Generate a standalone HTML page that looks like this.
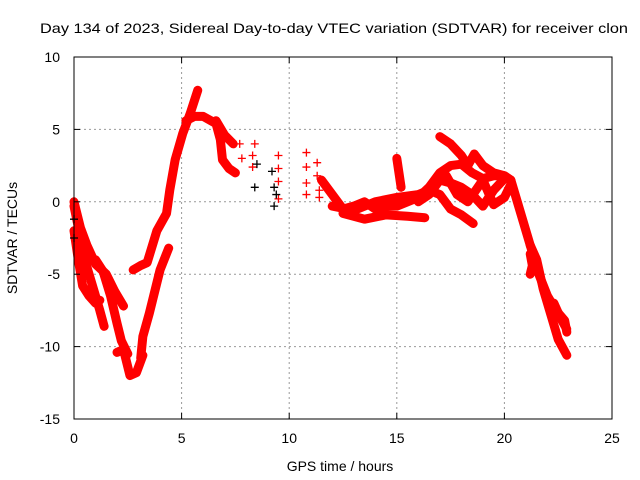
<!DOCTYPE html>
<html><head><meta charset="utf-8"><style>
body{margin:0;background:#fff}
svg{display:block;font-family:"Liberation Sans",sans-serif}
</style></head><body>
<svg id="chart" width="640" height="480" viewBox="0 0 640 480">
<text x="40" y="33" font-size="14" textLength="588" lengthAdjust="spacingAndGlyphs">Day 134 of 2023, Sidereal Day-to-day VTEC variation (SDTVAR) for receiver clon</text>
<g id="grid"></g>
<g id="marks"></g>
<rect x="74" y="57" width="538" height="362" fill="none" stroke="#000" stroke-width="1"/>
<g id="axes"></g>
<text x="340" y="471" font-size="14" text-anchor="middle">GPS time / hours</text>
<text transform="translate(17,238) rotate(-90)" font-size="14" text-anchor="middle">SDTVAR / TECUs</text>
</svg>
<script>
const xTicks=[0,5,10,15,20,25];
const yTicks=[10,5,0,-5,-10,-15];
const trackA=[[0,0],[0.3,-1.8],[0.6,-3],[1,-4.3],[1.5,-5],[1.9,-6.2],[2.3,-7.2]];
const trackB=[[0,-0.3],[0.3,-2.5],[0.6,-4.5],[0.9,-6],[1.2,-7.5],[1.4,-8.6]];
const trackC=[[0,-2],[0.2,-4],[0.4,-5.8],[0.7,-6.5],[1,-7],[1.2,-6.8]];
const trackD=[[1,-4],[1.35,-4.8],[1.7,-6.5],[2,-8.4],[2.2,-9.6],[2.5,-10.5]];
const trackE=[[2,-10.4],[2.3,-10.2],[2.6,-12],[2.9,-11.8],[3.2,-10.6]];
const trackF=[[3.1,-10.8],[3.2,-9.3],[3.5,-7.7],[3.7,-6.5],[4,-4.7],[4.4,-3.2]];
const trackG=[[2.75,-4.7],[3.1,-4.4],[3.4,-4.2],[3.85,-2],[4.3,-0.8],[4.45,0.8],[4.7,2.9],[5.05,4.7],[5.4,6.1],[5.75,7.7]];
const trackH=[[5.2,5.6],[5.6,5.9],[6,5.9],[6.6,5.4],[6.8,4.3],[6.9,2.9],[7.2,2.3],[7.5,2.0]];
const trackH2=[[6.6,5.6],[7,4.6],[7.4,4]];
const trackM1=[[11.5,1.5],[12,0.5],[12.5,-0.5],[13,-0.3],[13.5,0],[14,-0.5],[14.5,-0.3],[15,-0.3],[15.5,0],[16,0.3],[16.5,1],[17,2],[17.5,2.5],[18,2.6],[18.5,2],[19,1.6],[19.5,1.8],[20,1.8],[20.3,1.5]];
const trackT=[[17,4.5],[17.5,4],[18,3.2],[18.3,2.5],[18.6,3.3],[19,2.5],[19.5,2],[20,1.8],[20.3,1.5]];
const trackL=[[12,-0.3],[13,-0.6],[14,0],[15,0.3],[16,0.5],[16.5,0.8],[17,0.5],[17.5,-0.5],[18,-0.9],[18.55,-1.5]];
const trackZ=[[16,0],[16.5,0.5],[17,1.5],[17.5,1.3],[18,1],[18.5,0.5],[19,-0.3],[19.5,0.8],[20,1.6]];
const trackZ2=[[17.3,1.8],[17.8,0.5],[18.3,0],[19,1.5],[19.5,-0.2],[20,0.3],[20.3,1.2]];
const trackLow=[[12.5,-0.8],[13.5,-1.2],[14.5,-0.9],[15.5,-1],[16.3,-1.1]];
const trackS=[[15,3],[15.1,2],[15.2,1]];
const trackR1=[[20.3,1.5],[20.5,0.5],[20.8,-1],[21.2,-3],[21.6,-5],[22,-6.5],[22.4,-7.5],[22.8,-8.2],[22.9,-9]];
const trackR2=[[21.2,-3],[21.5,-4],[21.8,-6],[22.2,-8],[22.5,-9.5],[22.9,-10.6]];
const trackR3=[[22.3,-7],[22.6,-8],[22.9,-8.8]];
const trackR4=[[21.2,-3.6],[21.3,-4.4],[21.2,-5]];
const sparseRed=[[8.3,3.2],[8.3,2.4],[8.4,4],[9.5,3.2],[9.5,2.3],[9.5,1.4],[9.5,0.2],[10.8,3.4],[10.8,2.4],[10.8,1.3],[10.8,0.5],[11.3,2.7],[11.3,1.8],[11.4,0.8],[11.4,0.3],[7.7,4],[7.8,3]];
const sparseBlack=[[8.4,1],[8.5,2.6],[9.2,2.1],[9.3,1],[9.3,-0.3],[9.4,0.5],[0,-1.2],[0,-2.5]];
const tracks=[trackA,trackB,trackC,trackD,trackE,trackF,trackG,trackH,trackH2,trackM1,trackT,trackL,trackZ,trackZ2,trackLow,trackS,trackR1,trackR2,trackR3,trackR4];

const X=h=>74+h*538/25;
const Y=v=>57+(10-v)*362/25;
const NS="http://www.w3.org/2000/svg";
const grid=document.getElementById('grid'),axes=document.getElementById('axes'),marks=document.getElementById('marks');
function mk(t,a,p){const e=document.createElementNS(NS,t);for(const k in a)e.setAttribute(k,a[k]);p.appendChild(e);return e;}
xTicks.forEach(t=>{
 const x=X(t);
 if(t>0&&t<25){const g=mk('line',{x1:x,y1:57,x2:x,y2:419,stroke:'#999','stroke-dasharray':'2,3'},grid);
 
 
 mk('line',{x1:x,y1:419,x2:x,y2:413,stroke:'#000'},axes);
 mk('line',{x1:x,y1:57,x2:x,y2:63,stroke:'#000'},axes);}
 const l=mk('text',{x:x,y:443,'font-size':14,'text-anchor':'middle'},axes);l.textContent=t;
 
 
});
yTicks.forEach(t=>{
 const y=Y(t);
 if(t<10&&t>-15){const g=mk('line',{x1:74,y1:y,x2:612,y2:y,stroke:'#999','stroke-dasharray':'2,3'},grid);
 
 
 mk('line',{x1:74,y1:y,x2:80,y2:y,stroke:'#000'},axes);
 mk('line',{x1:612,y1:y,x2:606,y2:y,stroke:'#000'},axes);}
 const l=mk('text',{x:60,y:y+5,'font-size':14,'text-anchor':'end'},axes);l.textContent=t;
 
 
});
function plus(h,v,c){
 const x=X(h),y=Y(v);
 const p=mk('path',{d:`M${x-4},${y}H${x+4}M${x},${y-4}V${y+4}`,stroke:c,'stroke-width':1.3,fill:'none'},marks);
 
 
}
tracks.forEach(tr=>{
 const pl=mk('polyline',{points:tr.map(p=>X(p[0])+','+Y(p[1])).join(' '),fill:'none',stroke:'#f00','stroke-width':9,'stroke-linejoin':'round','stroke-linecap':'round'},marks);
 
 
 tr.forEach(p=>plus(p[0],p[1],'#f00'));
});
sparseRed.forEach(p=>plus(p[0],p[1],'#f00'));
sparseBlack.forEach(p=>plus(p[0],p[1],'#000'));
</script>
</body></html>
